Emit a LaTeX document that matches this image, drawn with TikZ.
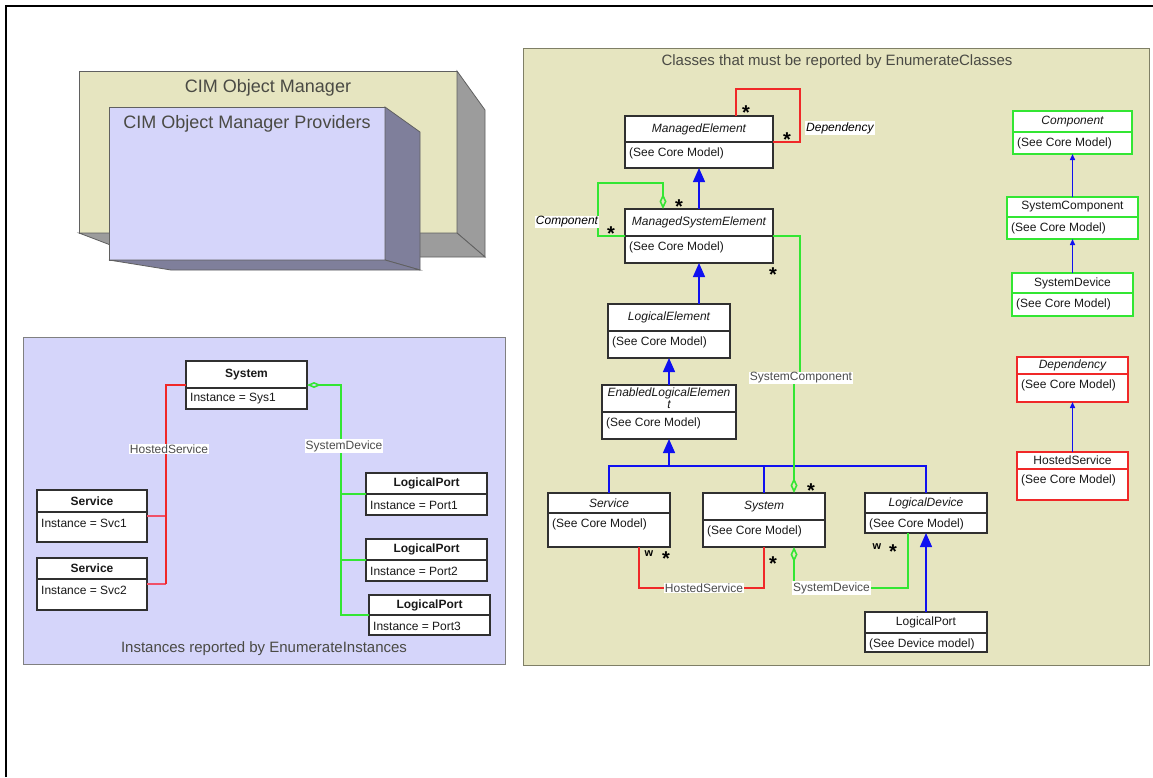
\documentclass[tikz,border=0pt]{standalone}
\usepackage{fontspec}
\setmainfont{Liberation Sans}
\usetikzlibrary{arrows.meta}
\definecolor{beige}{HTML}{E6E5C0}
\definecolor{lav}{HTML}{D5D5FA}
\definecolor{sidegray}{HTML}{9C9C9C}
\definecolor{sidelav}{HTML}{7F7F9B}
\definecolor{edgegray}{HTML}{606060}
\definecolor{panelolive}{HTML}{7F7F66}
\definecolor{captext}{HTML}{4A4A44}
\definecolor{boxline}{HTML}{303030}
\definecolor{umlgreen}{HTML}{33E633}
\definecolor{umlred}{HTML}{F02828}
\definecolor{umlblue}{HTML}{1010F0}
\definecolor{pinkred}{HTML}{F05068}
\newcommand{\UMLbox}[9]{%
  \node[umlframe, draw=#7, minimum width={(#4-#2)*1pt}, minimum height={(#5-#3)*1pt}, anchor=north west] (#1) at (#2,#3) {};
  \draw[draw=#7, line width=1.1pt] (#2,#6) -- (#4,#6);
  \node[boxtext] (#1-t) at ({(#2+#4)/2},{(#3+#6)/2}) {#8};
  \node[boxtext, anchor=west] (#1-b) at ({#2+4},{#6+11}) {#9};
}
\begin{document}
\begin{tikzpicture}[x=1pt,y=-1pt,
  umlframe/.style={fill=white, line width=1.1pt, inner sep=0pt, outer sep=0pt},
  boxtext/.style={font=\fontsize{12}{12}\selectfont, inner sep=0pt, text=black!90, align=center},
  caption/.style={font=\fontsize{15}{15}\selectfont, text=captext, inner sep=0pt},
  bigcap/.style={font=\fontsize{18}{18}\selectfont, text=captext, inner sep=0pt},
  assoclabel/.style={font=\fontsize{12}{12}\selectfont, text=black!70, fill=white, inner sep=1pt},
  italabel/.style={font=\fontsize{12}{12}\selectfont\itshape, text=black, fill=white, inner sep=1pt},
  mult/.style={font=\fontsize{20}{20}\selectfont\bfseries, inner sep=0pt, anchor=base},
  wmark/.style={font=\fontsize{11}{11}\selectfont\bfseries, inner sep=0pt},
  inh/.style={draw=umlblue, line width=1.4pt, -{Triangle[width=12pt,length=14pt]}},
  smallinh/.style={draw=umlblue, line width=1.4pt, -{Triangle[width=5pt,length=6pt]}},
  bline/.style={draw=umlblue, line width=1.6pt},
  gline/.style={draw=umlgreen, line width=1.6pt},
  rline/.style={draw=umlred, line width=1.6pt},
  vdiam/.style={{Diamond[open,width=7pt,length=15pt]}-},
]
\useasboundingbox (0,0) rectangle (1153,777);
\fill[white] (0,0) rectangle (1153,777);
\draw[line width=2.5pt] (6.2,777) -- (6.2,6.2) -- (1153,6.2);

% ---- 3D boxes
\filldraw[fill=beige, draw=edgegray, line width=0.8pt] (79,71) rectangle (457,233);
\filldraw[fill=sidegray, draw=edgegray, line width=0.8pt] (457,71) -- (485,110) -- (485,257) -- (457,233) -- cycle;
\filldraw[fill=sidegray, draw=edgegray, line width=0.8pt] (79,233) -- (457,233) -- (485,257) -- (142,257) -- cycle;
\node[bigcap] (cimom) at (268,88) {CIM Object Manager};
\filldraw[fill=lav, draw=edgegray, line width=0.8pt] (109,107) rectangle (385,260);
\filldraw[fill=sidelav, draw=edgegray, line width=0.8pt] (385,107) -- (420,132) -- (420,270) -- (385,260) -- cycle;
\filldraw[fill=sidelav, draw=edgegray, line width=0.8pt] (109,260) -- (385,260) -- (420,270) -- (171,270) -- cycle;
\node[bigcap] (cimprov) at (247,124) {CIM Object Manager Providers};

% ---- panels
\filldraw[fill=lav, draw=gray, line width=1pt] (23,337) rectangle (505,664);
\filldraw[fill=beige, draw=panelolive, line width=1pt] (523,48) rectangle (1149,665);
\node[caption] (instcap) at (264,649) {Instances reported by EnumerateInstances};
\node[caption] (clscap) at (837,62) {Classes that must be reported by EnumerateClasses};

% ---- left panel boxes
\UMLbox{isys}{186}{361}{307}{409}{388}{boxline}{\bfseries System}{Instance = Sys1}
\UMLbox{isvc1}{37}{490}{147}{542}{512}{boxline}{\bfseries Service}{Instance = Svc1}
\UMLbox{isvc2}{37}{558}{147}{610}{579}{boxline}{\bfseries Service}{Instance = Svc2}
\UMLbox{ilp1}{366}{473}{487}{515}{494}{boxline}{\bfseries LogicalPort}{Instance = Port1}
\UMLbox{ilp2}{366}{539}{487}{581}{560}{boxline}{\bfseries LogicalPort}{Instance = Port2}
\UMLbox{ilp3}{369}{595}{490}{635}{615}{boxline}{\bfseries LogicalPort}{Instance = Port3}

\coordinate (hsx) at (166,0);
\coordinate (sdx) at (341,0);
\draw[draw=pinkred, line width=2pt] (isvc1.east) -- (isvc1.east -| hsx);
\draw[draw=pinkred, line width=2pt] (isvc2.east) -- (isvc2.east -| hsx);
\draw[rline] (isys.west) -| (hsx |- isvc2.east);
\draw[gline, {Diamond[open,width=6pt,length=14pt]}-] (isys.east) -| (sdx |- ilp3.west) -- (ilp3.west);
\draw[gline] (ilp1.west) -- (ilp1.west -| sdx);
\draw[gline] (ilp2.west) -- (ilp2.west -| sdx);
\node[assoclabel] (ihs) at (169,449) {HostedService};
\node[assoclabel] (isd) at (344,446) {SystemDevice};

% ---- right panel boxes
\UMLbox{me}{625}{116}{773}{168}{142}{boxline}{\itshape ManagedElement}{(See Core Model)}
\UMLbox{mse}{625}{209}{773}{263}{236}{boxline}{\itshape ManagedSystemElement}{(See Core Model)}
\UMLbox{le}{608}{304}{730}{358}{331}{boxline}{\itshape LogicalElement}{(See Core Model)}
\UMLbox{ele}{602}{385}{736}{439}{412}{boxline}{\itshape EnabledLogicalElemen\\\itshape t}{(See Core Model)}
\UMLbox{svc}{548}{493}{670}{547}{513}{boxline}{\itshape Service}{(See Core Model)}
\UMLbox{sys}{703}{493}{825}{547}{520}{boxline}{\itshape System}{(See Core Model)}
\UMLbox{ld}{865}{493}{987}{533}{513}{boxline}{\itshape LogicalDevice}{(See Core Model)}
\UMLbox{lport}{865}{612}{987}{652}{633}{boxline}{LogicalPort}{(See Device model)}
\UMLbox{comp}{1013}{111}{1132}{154}{132}{umlgreen}{\itshape Component}{(See Core Model)}
\UMLbox{scomp}{1007}{197}{1138}{239}{217}{umlgreen}{SystemComponent}{(See Core Model)}
\UMLbox{sdev}{1012}{273}{1133}{316}{293}{umlgreen}{SystemDevice}{(See Core Model)}
\UMLbox{dep}{1017}{357}{1128}{402}{374}{umlred}{\itshape Dependency}{(See Core Model)}
\UMLbox{hs}{1017}{452}{1128}{500}{469}{umlred}{HostedService}{(See Core Model)}

% inheritance
\draw[inh] (mse.north) -- (me.south);
\draw[inh] (le.north -| mse.south) -- (mse.south);
\draw[inh] (ele.north) -- (ele.north |- le.south);
\coordinate (bar) at (669,466);
\draw[inh] (bar) -- (bar |- ele.south);
\draw[bline] (svc.north) |- (ld.north |- bar) -- (ld.north);
\draw[bline] (sys.north |- bar) -- (sys.north);
\draw[inh] (lport.north) -- (ld.south);
\draw[smallinh] (scomp.north) -- (comp.south);
\draw[smallinh] (sdev.north) -- (scomp.south);
\draw[smallinh] (hs.north) -- (dep.south);

% Dependency loop
\coordinate (deptop) at (800,89);
\draw[rline] ([xshift=37pt]me.north) |- (deptop) |- (me.east);
\node[italabel, anchor=west] (deplab) at (805,128) {Dependency};
\node[mult] (m1) at (746,119) {*};
\node[mult] (m2) at (787,146) {*};

% Component loop
\coordinate (cmptop) at (598,183);
\draw[gline, vdiam] ([xshift=-36pt]mse.north) |- (cmptop) |- (mse.west);
\node[italabel] (cmplab) at (567,222) {Component};
\node[mult] (m3) at (679,213) {*};
\node[mult] (m4) at (611,240) {*};

% SystemComponent
\coordinate (scj) at (800,378);
\draw[gline, vdiam] ([xshift=30pt]sys.north) |- (scj) |- (mse.east);
\node[assoclabel] (sclab) at (801,378) {SystemComponent};
\node[mult] (m5) at (773,281) {*};
\node[mult] (m6) at (811,497) {*};

% HostedService
\coordinate (hsr) at (704,588);
\draw[rline] ([xshift=30pt]svc.south) |- (hsr) -| (sys.south);
\node[assoclabel] (hslab) at (704,588) {HostedService};
\node[wmark] (w1) at (649,554) {w};
\node[mult] (m7) at (666,565) {*};
\node[mult] (m8) at (773,570) {*};

% SystemDevice
\coordinate (sdr) at (908,588);
\draw[gline, vdiam] ([xshift=30pt]sys.south) |- (sdr) -- ([xshift=-18pt]ld.south);
\node[assoclabel, anchor=west] (sdlab) at (792,588) {SystemDevice};
\node[wmark] (w2) at (877,547) {w};
\node[mult] (m9) at (893,558) {*};
\end{tikzpicture}
\end{document}
